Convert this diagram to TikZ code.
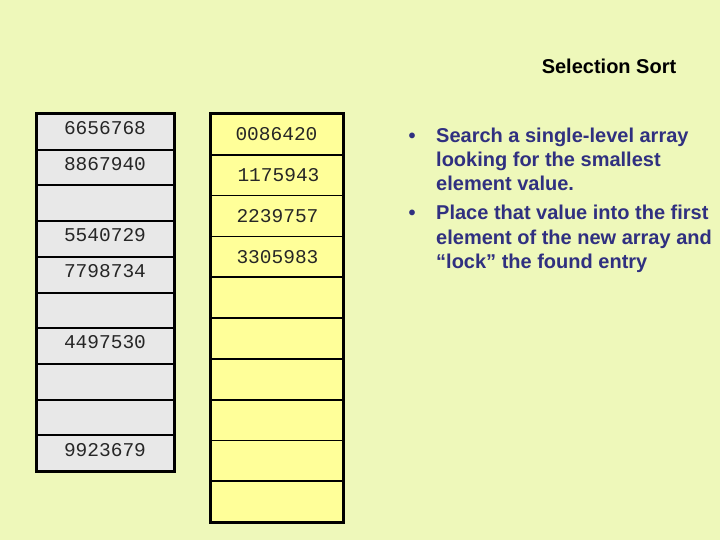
\documentclass[tikz,border=0pt]{standalone}
\usepackage{fontspec}
\setmainfont{Liberation Sans}
\newfontfamily\monofont{Liberation Mono}
\definecolor{bg}{RGB}{238,248,186}
\definecolor{grayfill}{RGB}{232,232,232}
\definecolor{yelfill}{RGB}{255,255,153}
\definecolor{navy}{RGB}{48,48,128}
\tikzset{
  lcell/.style={draw=black, line width=2pt, fill=grayfill, minimum width=138pt, minimum height=35.7pt, inner sep=0pt, outer sep=0pt},
  rcell/.style={draw=black, line width=1.8pt, fill=yelfill, minimum width=133pt, minimum height=40.8pt, inner sep=0pt, outer sep=0pt},
  num/.style={font=\monofont\fontsize{19.5}{20}\selectfont, text=black!85, inner sep=0pt},
  btext/.style={font=\bfseries\fontsize{20}{24}\selectfont, text=navy, inner sep=0pt, anchor=base west},
  bullet/.style={font=\bfseries\fontsize{20}{24}\selectfont, text=navy, inner sep=0pt, anchor=base}
}
\begin{document}
\begin{tikzpicture}[x=1pt,y=-1pt]
\fill[bg] (0,0) rectangle (720,540);
\useasboundingbox (0,0) rectangle (720,540);
% left array
\foreach \i in {0,...,9}
  \node[lcell] (l\i) at (105,{114+35.7*(\i+0.5)}) {};
\draw[line width=3pt] (l0.north west) rectangle (l9.south east);
\node[num, yshift=3.5pt] (ln0) at (l0) {6656768};
\node[num, yshift=3.5pt] (ln1) at (l1) {8867940};
\node[num, yshift=3.5pt] (ln3) at (l3) {5540729};
\node[num, yshift=3.5pt] (ln4) at (l4) {7798734};
\node[num, yshift=3.5pt] (ln6) at (l6) {4497530};
\node[num, yshift=3.5pt] (ln9) at (l9) {9923679};
% right array
\foreach \i in {0,...,9}
  \node[rcell] (r\i) at (276.5,{114+40.8*(\i+0.5)}) {};
\draw[line width=3pt] (r0.north west) rectangle (r9.south east);
\node[num] (rn0) at (r0) {0086420};
\node[num, xshift=2pt] (rn1) at (r1) {1175943};
\node[num, xshift=1pt] (rn2) at (r2) {2239757};
\node[num, xshift=1pt] (rn3) at (r3) {3305983};
% title
\node[font=\bfseries\fontsize{20}{24}\selectfont, inner sep=0pt, anchor=base] (title) at (609,74) {Selection Sort};
% bullets
\node[bullet] (b1) at (412,143) {•};
\node[btext] (t1) at (436,143) {Search a single-level array};
\node[btext] (t2) at (436,167) {looking for the smallest};
\node[btext] (t3) at (436,191) {element value.};
\node[bullet] (b2) at (412,220) {•};
\node[btext] (t4) at (436,220) {Place that value into the first};
\node[btext] (t5) at (436,244) {element of the new array and};
\node[btext] (t6) at (436,268) {“lock” the found entry};
\end{tikzpicture}
\end{document}
